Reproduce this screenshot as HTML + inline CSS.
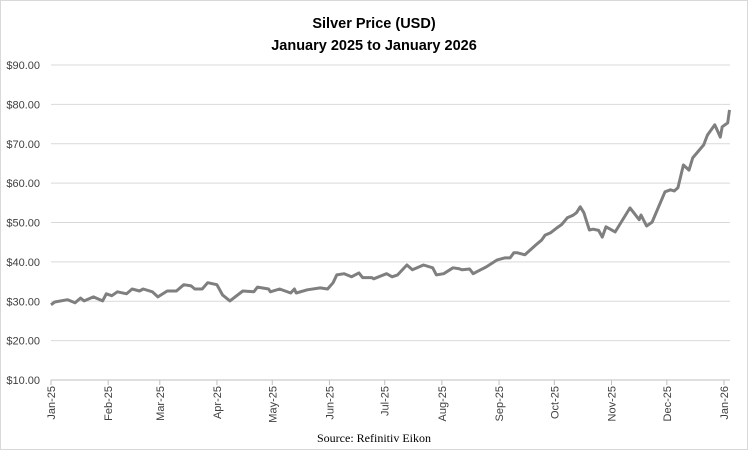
<!DOCTYPE html>
<html><head><meta charset="utf-8">
<style>
body{margin:0;background:#fff;}
svg text{font-family:"Liberation Sans",sans-serif;}
</style></head>
<body>
<svg id="chart" width="748" height="450" xmlns="http://www.w3.org/2000/svg">
<rect x="0.5" y="0.5" width="747" height="449" fill="#fff" stroke="#d9d9d9"/>
<text x="374" y="28" text-anchor="middle" font-size="14.5" font-weight="bold" fill="#000">Silver Price (USD)</text>
<text x="374" y="50" text-anchor="middle" font-size="14.5" font-weight="bold" fill="#000">January 2025 to January 2026</text>
<g id="grid"></g>
<g id="yaxis"></g>
<g id="xaxis"></g>
<path id="line" fill="none" stroke="#7f7f7f" stroke-width="3" stroke-linejoin="round"/>
<text x="374" y="442" text-anchor="middle" font-size="12" fill="#000" style="font-family:'Liberation Serif',serif">Source: Refinitiv Eikon</text>
</svg>
<script>
const yTicks = [10,20,30,40,50,60,70,80,90];
const monthLabels = ["Jan-25","Feb-25","Mar-25","Apr-25","May-25","Jun-25","Jul-25","Aug-25","Sep-25","Oct-25","Nov-25","Dec-25","Jan-26"];
const monthDays = [0,31,59,90,120,151,181,212,243,273,304,334,365];
const days = [0,2,9,13,16,18,23,28,30,33,36,41,44,48,50,55,58,63,68,72,76,78,82,85,90,93,97,104,110,112,118,119,124,130,132,133,139,146,150,153,155,159,163,167,169,174,175,182,185,188,193,196,202,207,209,213,218,221,223,227,229,231,236,242,246,249,251,253,257,263,266,268,271,274,277,280,283,285,287,289,290,292,294,297,299,301,306,314,319,320,323,326,333,336,338,340,343,346,348,354,356,360,363,364,367,368];
const prices = [29.1,29.8,30.4,29.6,30.8,30.1,31.1,30.1,31.9,31.4,32.4,31.9,33.1,32.6,33.1,32.4,31.1,32.6,32.6,34.2,33.9,33.1,33.1,34.7,34.2,31.6,30.1,32.6,32.4,33.6,33.1,32.4,33.1,32.1,33.1,32.1,32.9,33.4,33.1,34.7,36.7,37.0,36.2,37.2,36.0,36.0,35.7,37.0,36.2,36.7,39.2,38.0,39.2,38.5,36.7,37.0,38.5,38.3,38.0,38.2,37.0,37.5,38.7,40.5,41.0,41.0,42.3,42.3,41.8,44.3,45.5,46.8,47.4,48.5,49.5,51.2,51.8,52.5,54.0,52.5,51.0,48.1,48.3,48.0,46.3,48.9,47.6,53.7,50.7,51.9,49.1,50.1,57.8,58.3,58.0,58.8,64.6,63.3,66.4,69.7,72.2,74.8,71.7,74.3,75.3,78.6];

const X0=51, X1=724, Y0=380, Y1=65;
const xs = d => X0 + d*(X1-X0)/365;
const ys = v => Y0 - (v-10)*(Y0-Y1)/80;
const NS="http://www.w3.org/2000/svg";
const grid=document.getElementById('grid'), yax=document.getElementById('yaxis'), xax=document.getElementById('xaxis');
yTicks.forEach(v=>{
  const y=ys(v);
  if(v>10){
    const l=document.createElementNS(NS,'line');
    
    
    l.setAttribute('x1',X0);l.setAttribute('x2',730);l.setAttribute('y1',y);l.setAttribute('y2',y);
    l.setAttribute('stroke','#d9d9d9');l.setAttribute('stroke-width','1');
    grid.appendChild(l);
  }
  const t=document.createElementNS(NS,'text');
  
  
  t.setAttribute('x',40);t.setAttribute('y',y+4);t.setAttribute('text-anchor','end');t.setAttribute('font-size','11');t.setAttribute('fill','#404040');
  t.textContent='$'+v.toFixed(2);
  yax.appendChild(t);
});
const ax=document.createElementNS(NS,'line');


ax.setAttribute('x1',X0);ax.setAttribute('x2',730);ax.setAttribute('y1',Y0);ax.setAttribute('y2',Y0);ax.setAttribute('stroke','#bfbfbf');
xax.appendChild(ax);
monthLabels.forEach((m,i)=>{
  const x=xs(monthDays[i]);
  const tk=document.createElementNS(NS,'line');
  
  
  tk.setAttribute('x1',x);tk.setAttribute('x2',x);tk.setAttribute('y1',Y0);tk.setAttribute('y2',Y0+5);tk.setAttribute('stroke','#bfbfbf');
  xax.appendChild(tk);
  const t=document.createElementNS(NS,'text');
  
  
  t.setAttribute('transform','translate('+(x+4)+','+(Y0+6)+') rotate(-90)');
  t.setAttribute('text-anchor','end');t.setAttribute('font-size','11');t.setAttribute('fill','#404040');
  t.textContent=m;
  xax.appendChild(t);
});
document.getElementById('line').setAttribute('d', days.map((d,i)=>(i?'L':'M')+xs(d).toFixed(1)+','+ys(prices[i]).toFixed(1)).join(''));
</script>
</body></html>
